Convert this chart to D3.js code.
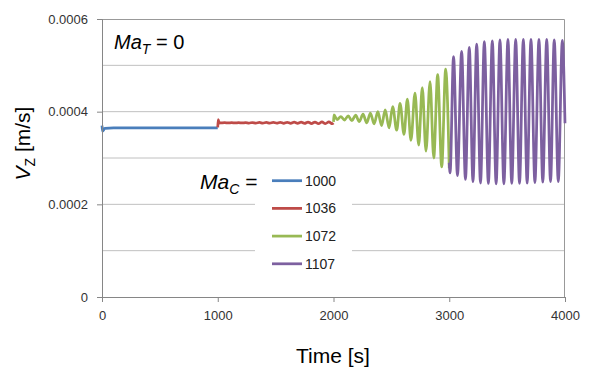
<!DOCTYPE html>
<html>
<head>
<meta charset="utf-8">
<script src="https://cdnjs.cloudflare.com/ajax/libs/d3/7.8.5/d3.min.js"></script>
<style>
  body { margin: 0; background: #fff; }
  text { font-family: "Liberation Sans", Arial, sans-serif; }
</style>
</head>
<body>
<script>
// values (time in s, Vz in m/s)
var blueT = [0, 5, 25, 100, 300, 500, 700, 900, 1000];
var blueV = [3.70e-4, 3.58e-4, 3.64e-4, 3.652e-4, 3.652e-4, 3.650e-4, 3.652e-4, 3.650e-4, 3.652e-4];

var redT = [1000, 1004, 1012, 1030, 1060, 1090, 1120, 1150, 1180, 1210, 1240, 1270, 1300,
  1330, 1360, 1390, 1420, 1450, 1480, 1510, 1540, 1570, 1600, 1630, 1660, 1690, 1720,
  1750, 1780, 1810, 1840, 1870, 1900, 1930, 1960, 1990, 2000];
var redV = [3.66e-4, 3.83e-4, 3.755e-4, 3.758e-4, 3.762e-4, 3.757e-4, 3.763e-4, 3.7565e-4,
  3.7635e-4, 3.756e-4, 3.764e-4, 3.755e-4, 3.7655e-4, 3.754e-4, 3.7665e-4, 3.753e-4,
  3.767e-4, 3.752e-4, 3.7685e-4, 3.751e-4, 3.769e-4, 3.750e-4, 3.7705e-4, 3.749e-4,
  3.772e-4, 3.7475e-4, 3.773e-4, 3.746e-4, 3.775e-4, 3.7445e-4, 3.776e-4, 3.743e-4,
  3.7775e-4, 3.742e-4, 3.779e-4, 3.740e-4, 3.755e-4];

var greenT = [2000, 2004, 2031, 2063, 2095, 2127, 2159, 2191, 2223, 2255, 2287, 2319, 2351,
  2383, 2415, 2447, 2480, 2511, 2546, 2575, 2609, 2638, 2669, 2704, 2736, 2767, 2799,
  2834, 2866, 2900, 2935, 2969, 3000];
var greenV = [3.78e-4, 3.93e-4, 3.83e-4, 3.895e-4, 3.82e-4, 3.91e-4, 3.805e-4, 3.925e-4,
  3.785e-4, 3.945e-4, 3.76e-4, 3.97e-4, 3.735e-4, 4.00e-4, 3.70e-4, 4.04e-4, 3.65e-4,
  4.11e-4, 3.60e-4, 4.18e-4, 3.51e-4, 4.27e-4, 3.38e-4, 4.40e-4, 3.28e-4, 4.52e-4,
  3.15e-4, 4.65e-4, 3.00e-4, 4.80e-4, 2.81e-4, 4.92e-4, 2.78e-4];

var purpleT = [3000, 3007, 3037, 3071, 3107, 3140, 3173, 3205, 3237, 3270, 3303, 3338, 3372,
  3405, 3438, 3472, 3507, 3540, 3574, 3607, 3640, 3673, 3706, 3740, 3775, 3808, 3842,
  3875, 3907, 3942, 3977, 4000];
var purpleV = [2.90e-4, 2.68e-4, 5.19e-4, 2.62e-4, 5.30e-4, 2.54e-4, 5.39e-4, 2.49e-4,
  5.46e-4, 2.46e-4, 5.51e-4, 2.45e-4, 5.53e-4, 2.44e-4, 5.55e-4, 2.44e-4, 5.56e-4,
  2.45e-4, 5.56e-4, 2.45e-4, 5.56e-4, 2.46e-4, 5.56e-4, 2.47e-4, 5.56e-4, 2.48e-4,
  5.56e-4, 2.49e-4, 5.55e-4, 2.49e-4, 5.54e-4, 3.75e-4];

var seriesNames = ["1000", "1036", "1072", "1107"];
var seriesColors = ["#4a7ebb", "#be4b48", "#98b954", "#7d60a0"];
var xTicks = [0, 1000, 2000, 3000, 4000];
var yTicks = [0, 0.0002, 0.0004, 0.0006];
var yGrid = [0.0001, 0.0002, 0.0003, 0.0004, 0.0005];

var series = [
  {name: seriesNames[0], t: blueT, v: blueV},
  {name: seriesNames[1], t: redT, v: redV},
  {name: seriesNames[2], t: greenT, v: greenV},
  {name: seriesNames[3], t: purpleT, v: purpleV}
];

var margin = {top: 19, right: 26, bottom: 77, left: 102},
    width = 591 - margin.left - margin.right,
    height = 374 - margin.top - margin.bottom;

var x = d3.scaleLinear().domain([0, 4000]).range([0, width]);
var y = d3.scaleLinear().domain([0, 0.0006]).range([height, 0]);

var svg = d3.select("body").append("svg")
    .attr("width", 591)
    .attr("height", 374);

var g = svg.append("g")
    .attr("transform", "translate(" + margin.left + "," + margin.top + ")");

// gridlines
g.selectAll(".grid")
    .data(yGrid)
    .enter().append("line")
    .attr("x1", 0).attr("x2", width)
    .attr("y1", function(d) { return y(d); })
    .attr("y2", function(d) { return y(d); })
    .attr("stroke", "#c0c0c0")
    .attr("stroke-width", 1);

// plot border (top + right)
g.append("path")
    .attr("d", "M0,0.5H" + (width - 0.5) + "V" + height)
    .attr("fill", "none")
    .attr("stroke", "#999")
    .attr("stroke-width", 1);

var line = d3.line()
    .x(function(d) { return x(d[0]); })
    .y(function(d) { return y(d[1]); })
    .curve(d3.curveMonotoneX);

g.selectAll(".series")
    .data(series)
    .enter().append("path")
    .attr("d", function(s) { return line(d3.zip(s.t, s.v)); })
    .attr("fill", "none")
    .attr("stroke", function(s, i) { return seriesColors[i]; })
    .attr("stroke-width", 2.75)
    .attr("stroke-linejoin", "round");

// axes
var xAxis = d3.axisBottom(x).tickValues(xTicks).tickSize(5).tickPadding(9)
    .tickFormat(d3.format("d"));
var yAxis = d3.axisLeft(y).tickValues(yTicks).tickSize(5).tickPadding(9)
    .tickFormat(function(d) { return d === 0 ? "0" : d.toFixed(4); });

var gx = g.append("g")
    .attr("transform", "translate(0," + height + ")")
    .call(xAxis);
var gy = g.append("g").call(yAxis);

[gx, gy].forEach(function(a) {
  a.select(".domain").attr("stroke", "#868686");
  a.selectAll(".tick line").attr("stroke", "#868686");
  a.selectAll(".tick text")
    .attr("fill", "#333")
    .style("font-size", "13px")
    .style("font-family", "'Liberation Sans', Arial, sans-serif");
});

// legend
var legend = svg.append("g");
legend.append("rect")
    .attr("x", 255).attr("y", 167)
    .attr("width", 97).attr("height", 110)
    .attr("fill", "#fff");

var item = legend.selectAll(".item")
    .data(series)
    .enter().append("g")
    .attr("transform", function(d, i) { return "translate(272," + (180.7 + i * 27.7) + ")"; });
item.append("line")
    .attr("x1", 0).attr("x2", 30)
    .attr("stroke", function(d, i) { return seriesColors[i]; })
    .attr("stroke-width", 2.75);
item.append("text")
    .attr("x", 33).attr("y", 5)
    .attr("fill", "#222")
    .style("font-size", "14px")
    .text(function(d) { return d.name; });

var mc = svg.append("text")
    .attr("x", 200).attr("y", 189)
    .style("font-size", "21px");
mc.append("tspan").style("font-style", "italic").text("Ma");
mc.append("tspan").style("font-style", "italic").style("font-size", "14px")
    .attr("dy", 5).text("C");
mc.append("tspan").attr("dy", -5).text(" =");

var mt = svg.append("text")
    .attr("x", 114).attr("y", 48.5)
    .style("font-size", "20px");
mt.append("tspan").style("font-style", "italic").text("Ma");
mt.append("tspan").style("font-style", "italic").style("font-size", "14px")
    .attr("dy", 5).text("T");
mt.append("tspan").attr("dy", -5).text(" = 0");

// axis titles
svg.append("text")
    .attr("x", margin.left + width / 2 - 0.5)
    .attr("y", 363)
    .attr("text-anchor", "middle")
    .style("font-size", "21px")
    .text("Time [s]");

var yl = svg.append("text")
    .attr("transform", "translate(30,143.5) rotate(-90)")
    .attr("text-anchor", "middle")
    .style("font-size", "21px");
yl.append("tspan").style("font-style", "italic").text("V");
yl.append("tspan").style("font-size", "14px").attr("dy", 5).text("Z");
yl.append("tspan").attr("dy", -5).text(" [m/s]");
</script>
</body>
</html>
